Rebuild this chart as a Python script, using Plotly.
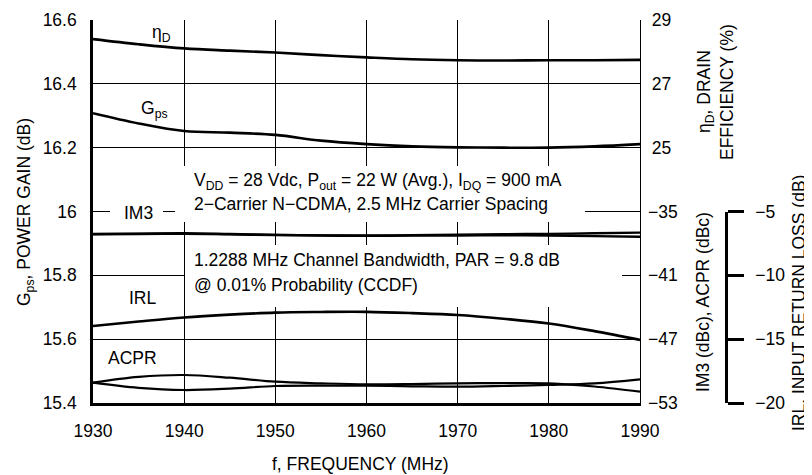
import plotly.graph_objects as go

# ---------------- data ----------------
freq = [1930, 1935, 1940, 1945, 1950, 1955, 1960, 1965, 1970, 1975, 1980, 1985, 1990]
gps = [16.308, 16.276, 16.252, 16.247, 16.240, 16.222, 16.211, 16.204, 16.201, 16.200, 16.200, 16.204, 16.211]
eff = [28.40, 28.24, 28.11, 28.04, 27.98, 27.90, 27.83, 27.77, 27.74, 27.73, 27.74, 27.74, 27.75]
im3_a = [-37.11, -37.08, -37.05, -37.12, -37.20, -37.24, -37.26, -37.22, -37.18, -37.14, -37.10, -37.05, -36.99]
im3_b = [-37.14, -37.12, -37.10, -37.15, -37.21, -37.26, -37.29, -37.27, -37.25, -37.24, -37.26, -37.31, -37.37]
acpr_a = [-51.09, -50.55, -50.37, -50.62, -51.00, -51.15, -51.25, -51.22, -51.15, -51.13, -51.15, -51.45, -51.94]
acpr_b = [-51.09, -51.58, -51.78, -51.65, -51.40, -51.36, -51.37, -51.43, -51.47, -51.40, -51.30, -51.15, -50.77]
irl = [-13.97, -13.62, -13.30, -13.08, -12.92, -12.87, -12.86, -12.96, -13.11, -13.40, -13.77, -14.37, -15.06]

x_ticks = [1930, 1940, 1950, 1960, 1970, 1980, 1990]
gps_ticks = [15.4, 15.6, 15.8, 16.0, 16.2, 16.4, 16.6]
gps_ticktext = ["15.4", "15.6", "15.8", "16", "16.2", "16.4", "16.6"]
eff_ticks = [29, 27, 25]
im3_ticks = [-35, -41, -47, -53]
im3_ticktext = ["\u221235", "\u221241", "\u221247", "\u221253"]
irl_ticks = [-5, -10, -15, -20]
irl_ticktext = ["\u22125", "\u221210", "\u221215", "\u221220"]

# ---------------- styling ----------------
FONT = "Liberation Sans, Arial, sans-serif"
FS = 17.5
OFF = 8                      # page body margin of the html page
W, H = 812 - OFF, 475 - OFF
L, R, T, B = 93, 640, 20, 403  # plot area in window pixels
MR = 22                        # right margin of the figure
PW = 812 - L - MR              # paper width in pixels


def xp(px):
    return (px - L) / PW


def yp(py):
    return (B - py) / (B - T)


fig = go.Figure()
lw = 2.6
fig.add_trace(go.Scatter(x=freq, y=gps, mode="lines", line=dict(color="black", width=lw, shape="spline"), yaxis="y"))
fig.add_trace(go.Scatter(x=freq, y=eff, mode="lines", line=dict(color="black", width=lw, shape="spline"), yaxis="y2"))
fig.add_trace(go.Scatter(x=freq, y=im3_a, mode="lines", line=dict(color="black", width=2.4, shape="spline"), yaxis="y3"))
fig.add_trace(go.Scatter(x=freq, y=im3_b, mode="lines", line=dict(color="black", width=2.4, shape="spline"), yaxis="y3"))
fig.add_trace(go.Scatter(x=freq, y=acpr_a, mode="lines", line=dict(color="black", width=2.2, shape="spline"), yaxis="y3"))
fig.add_trace(go.Scatter(x=freq, y=acpr_b, mode="lines", line=dict(color="black", width=2.2, shape="spline"), yaxis="y3"))
fig.add_trace(go.Scatter(x=freq, y=irl, mode="lines", line=dict(color="black", width=lw, shape="spline"), yaxis="y4"))

tickfont = dict(family=FONT, size=FS, color="black")

fig.update_layout(
    width=W, height=H,
    margin=dict(l=L - OFF, r=MR, t=T - OFF, b=475 - B, pad=0),
    paper_bgcolor="white", plot_bgcolor="rgba(0,0,0,0)",
    showlegend=False,
    font=dict(family=FONT, size=FS, color="black"),
    xaxis=dict(domain=[0, (R - L) / PW], range=[1930, 1990], tickvals=x_ticks, automargin=False,
               showgrid=True, gridcolor="black", gridwidth=1.2,
               showline=True, linecolor="black", linewidth=2.6,
               ticks="", tickfont=tickfont, ticklabelstandoff=10, zeroline=False),
    yaxis=dict(range=[15.4, 16.6], tickvals=gps_ticks, ticktext=gps_ticktext, automargin=False,
               showgrid=True, gridcolor="black", gridwidth=1.2,
               showline=True, linecolor="black", linewidth=2.6,
               ticks="", tickfont=tickfont, ticklabelstandoff=10, zeroline=False),
    yaxis2=dict(overlaying="y", side="right", anchor="x", range=[17, 29], tickvals=eff_ticks, automargin=False,
                showgrid=False, showline=True, linecolor="black", linewidth=1.4,
                ticks="", tickfont=tickfont, ticklabelstandoff=7, zeroline=False),
    yaxis3=dict(overlaying="y", side="right", anchor="x", range=[-53, -17], tickvals=im3_ticks, automargin=False,
                ticktext=im3_ticktext, showgrid=False, showline=False,
                ticks="", tickfont=tickfont, ticklabelstandoff=7, zeroline=False),
    yaxis4=dict(domain=[0, 0.5], side="right", anchor="free", position=xp(726), range=[-20, -5],
                tickvals=irl_ticks, ticktext=irl_ticktext, showgrid=False, automargin=False,
                showline=True, linecolor="black", linewidth=2.6,
                ticks="outside", ticklen=16, tickwidth=2.6, tickcolor="black",
                tickfont=tickfont, ticklabelstandoff=8, zeroline=False),
)

# white boxes masking the grid behind the text (they do not touch any curve)
for x0, x1, y0, y1 in [(175, 585, 166, 222), (185, 622, 245, 307), (110, 163, 203, 223)]:
    fig.add_shape(type="rect", xref="paper", yref="paper", x0=xp(x0), x1=xp(x1), y0=yp(y1), y1=yp(y0),
                  fillcolor="white", line=dict(width=0), layer="above")


def ann(text, px, py, xanchor="center", angle=0):
    fig.add_annotation(text=text, x=xp(px), y=yp(py), xref="paper", yref="paper",
                       xanchor=xanchor, yanchor="middle", showarrow=False, textangle=angle,
                       borderpad=0, font=dict(family=FONT, size=FS, color="black"))


ann("\u03b7<sub>D</sub>", 161, 34)
ann("G<sub>ps</sub>", 154, 110)
ann("IM3", 138, 213)
ann("IRL", 143, 298)
ann("ACPR", 132, 358)
ann("V<sub>DD</sub> = 28 Vdc, P<sub>out</sub> = 22 W (Avg.), I<sub>DQ</sub> = 900 mA", 193, 181, "left")
ann("2\u2212Carrier N\u2212CDMA, 2.5 MHz Carrier Spacing", 193, 204, "left")
ann("1.2288 MHz Channel Bandwidth, PAR = 9.8 dB", 193, 260, "left")
ann("@ 0.01% Probability (CCDF)", 193, 285, "left")

# axis titles
ann("G<sub>ps</sub>, POWER GAIN (dB)", 25, 212, angle=-90)
ann("f, FREQUENCY (MHz)", 360, 464)
ann("\u03b7<sub>D</sub>, DRAIN", 705, 92, angle=-90)
ann("EFFICIENCY (%)", 727, 92, angle=-90)
ann("IM3 (dBc), ACPR (dBc)", 703, 302, angle=-90)
ann("IRL, INPUT RETURN LOSS (dB)", 799, 303, angle=-90)

fig.write_html("out.html")
